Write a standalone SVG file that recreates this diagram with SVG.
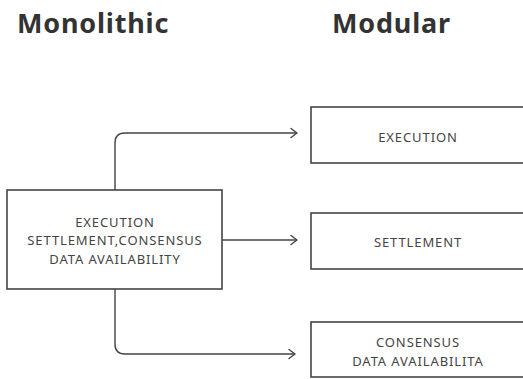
<svg xmlns="http://www.w3.org/2000/svg" width="523" height="379" viewBox="0 0 523 379">
  <defs>
    <marker id="arrow" markerWidth="10" markerHeight="12" refX="8" refY="6" orient="auto" markerUnits="userSpaceOnUse">
      <path d="M2,1.5 L8,6 L2,10.5" fill="none" stroke="#444" stroke-width="1.4" stroke-linecap="round" stroke-linejoin="round"/>
    </marker>
  </defs>
  <style>
    .title { font-family: "Noto Sans", "Open Sans", sans-serif; font-weight: 700; font-size: 27px; fill: #333; letter-spacing: 0.8px; }
    .box { fill: #fff; stroke: #444; stroke-width: 1.6; }
    .label { font-family: "Noto Sans", "Open Sans", sans-serif; font-size: 13px; fill: #444; text-anchor: middle; letter-spacing: 0.9px; }
    .conn { fill: none; stroke: #444; stroke-width: 1.4; marker-end: url(#arrow); }
  </style>
  <rect width="523" height="379" fill="#fff"/>

  <text class="title" x="17" y="33">Monolithic</text>
  <text class="title" x="332" y="33">Modular</text>

  <g id="connectors">
    <path class="conn" d="M115,190 V143 Q115,133 125,133 H297"/>
    <path class="conn" d="M222,240 H297"/>
    <path class="conn" d="M115,289 V344 Q115,354 125,354 H295"/>
  </g>

  <g id="monolithic">
    <rect class="box" x="7" y="190" width="215" height="99"/>
    <text class="label" x="115" y="226.5">EXECUTION</text>
    <text class="label" x="115" y="245">SETTLEMENT,CONSENSUS</text>
    <text class="label" x="115" y="263.5">DATA AVAILABILITY</text>
  </g>

  <g id="execution">
    <rect class="box" x="311" y="107" width="216" height="56"/>
    <text class="label" x="418" y="141.5">EXECUTION</text>
  </g>

  <g id="settlement">
    <rect class="box" x="311" y="213" width="216" height="56"/>
    <text class="label" x="418" y="246.5">SETTLEMENT</text>
  </g>

  <g id="consensus-da">
    <rect class="box" x="311" y="322" width="216" height="55"/>
    <text class="label" x="418" y="346.5">CONSENSUS</text>
    <text class="label" x="418" y="365.5">DATA AVAILABILITA</text>
  </g>
</svg>
